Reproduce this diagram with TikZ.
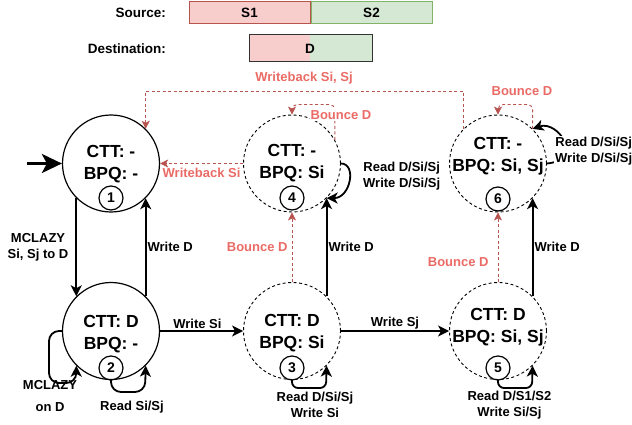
\documentclass[tikz,border=0pt]{standalone}
\usepackage{fontspec}
\setmainfont{Liberation Sans}
\usetikzlibrary{arrows.meta}

\definecolor{srcred}{HTML}{F8CECC}
\definecolor{srcredline}{HTML}{B85450}
\definecolor{srcgreen}{HTML}{D5E8D4}
\definecolor{srcgreenline}{HTML}{82B366}
\definecolor{bouncetxt}{HTML}{EA6B66}

\tikzset{
  state/.style={circle, draw, line width=1.2pt, minimum size=97pt, inner sep=0pt},
  dstate/.style={state, line width=0.9pt, dash pattern=on 3pt off 2.5pt},
  stxt/.style={align=center, inner sep=0pt, font=\fontsize{17.5}{22}\selectfont\bfseries},
  numc/.style={circle, draw, line width=1.2pt, minimum size=24pt, inner sep=0pt, font=\fontsize{14}{14}\selectfont\bfseries},
  lbl/.style={align=center, inner sep=1pt, font=\fontsize{13}{16}\selectfont\bfseries},
  redlbl/.style={lbl, text=bouncetxt},
  legbox/.style={draw, line width=1pt, minimum width=121pt, minimum height=22.5pt, inner sep=0pt, font=\fontsize{13.5}{14}\selectfont\bfseries},
  arr/.style={line width=1.8pt, -{Stealth[length=11pt,width=11pt,inset=3pt]}},
  redarr/.style={draw=srcredline, line width=0.9pt, dash pattern=on 3pt off 2.5pt, -{Stealth[length=8pt,width=8pt,inset=2pt]}},
}

\begin{document}
\begin{tikzpicture}[x=1pt,y=-1pt]
\useasboundingbox (0,0) rectangle (632,425);

%% legend
\node[lbl, anchor=east, font=\fontsize{13.5}{14}\selectfont\bfseries] (srclbl) at (167,13) {Source:};
\node[lbl, anchor=east, font=\fontsize{13.5}{14}\selectfont\bfseries] (dstlbl) at (167,49) {Destination:};
\node[legbox, fill=srcred, draw=srcredline] (srcS1) at (249.5,12.75) {S1};
\node[legbox, fill=srcgreen, draw=srcgreenline, anchor=west] (srcS2) at (srcS1.east) {S2};
\fill[srcred] (249,35) rectangle (310,62);
\fill[srcgreen] (310,35) rectangle (372,62);
\draw[black!80, line width=1pt] (249,35) rectangle (372,62);
\node[lbl, font=\fontsize{13.5}{14}\selectfont\bfseries] (dstD) at (310,48.5) {D};

%% states
\node[state] (st1) at (111,163.5) {};
\node[state] (st2) at (111,331) {};
\node[dstate] (st3) at (292,331) {};
\node[dstate] (st4) at (292,163.5) {};
\node[dstate] (st5) at (498,331) {};
\node[dstate] (st6) at (498,163.5) {};

\node[stxt] (t1) at (111,164) {CTT: -\\BPQ: -};
\node[stxt] (t2) at (111,334) {CTT: D\\BPQ: -};
\node[stxt] (t3) at (292,333) {CTT: D\\BPQ: Si};
\node[stxt] (t4) at (292,163) {CTT: -\\BPQ: Si};
\node[stxt] (t5) at (498,327) {CTT: D\\BPQ: Si, Sj};
\node[stxt] (t6) at (498,156) {CTT: -\\BPQ: Si, Sj};

\node[numc] (n1) at (111,198) {1};
\node[numc] (n2) at (111,368) {2};
\node[numc] (n3) at (292,368) {3};
\node[numc] (n4) at (292,198) {4};
\node[numc] (n5) at (498,368) {5};
\node[numc] (n6) at (498,199) {6};

%% entry
\coordinate (entry) at (27,163.5);
\draw[line width=3pt, -{Stealth[length=20pt,width=19pt,inset=5pt]}] (entry) -- (st1);

%% black edges
\draw[arr] (st1.225) -- (st2.135) node[lbl, midway, left=6pt] (lmc) {MCLAZY\\Si, Sj to D};
\draw[arr] (st2.45) -- (st1.-45) node[lbl, midway, right] (lwd1) {Write D};
\draw[arr] (st2) -- (st3) node[lbl, pos=0.45, above] (lwsi) {Write Si};
\draw[arr] (st3) -- (st5) node[lbl, midway, above] (lwsj) {Write Sj};
\draw[arr] (st3.45) -- (st4.-45) node[lbl, midway, right] (lwd2) {Write D};
\draw[arr] (st5.45) -- (st6.-45) node[lbl, midway, right] (lwd3) {Write D};

%% self loops
\draw[arr, rounded corners=10pt] (st2.west) -| (49,383) -| (st2.225);
\node[lbl, font=\fontsize{13}{22}\selectfont\bfseries] (lmc2) at (50,396) {MCLAZY\\on D};
\draw[arr, rounded corners=10pt] (st2.south) |- (145,392) -- (st2.-45);
\node[lbl] (lrd2) at (132,407) {Read Si/Sj};

\draw[arr, rounded corners=6pt] (st3.south) |- (326,388) -- (st3.-45);
\node[lbl, fill=white] (lrd3) at (315,405) {Read D/Si/Sj\\Write Si};
\draw[arr, rounded corners=6pt] (st5.south) |- (532,388) -- (st5.-45);
\node[lbl, fill=white] (lrd5) at (509.5,405) {Read D/S1/S2\\Write Si/Sj};

\draw[arr] (st4.east) .. controls +(16,0) and +(24,0) .. (st4.-45);
\node[lbl, anchor=west] (lrd4) at (362,176) {Read D/Si/Sj\\Write D/Si/Sj};
\draw[arr] (st6.east) .. controls (585,160) and (558,120) .. (st6.45);
\node[lbl, anchor=west, fill=white] (lrd6) at (554,151.5) {Read D/Si/Sj\\Write D/Si/Sj};

%% bounce and writeback
\draw[redarr] (st3) -- (st4) node[redlbl, midway, left=3pt] (lb3) {Bounce D};
\draw[redarr] (st5) -- (st6) node[redlbl, pos=0.29, left=8pt] (lb5) {Bounce D};
\draw[redarr, rounded corners=5pt] (st4.29) |- ([yshift=10pt]st4.north) -- (st4.north);
\node[redlbl, fill=white] (lb4) at (341,115) {Bounce D};
\draw[redarr, rounded corners=5pt] (st6.45) |- ([yshift=10pt]st6.north) -- (st6.north);
\node[redlbl] (lb6) at (522,91) {Bounce D};

\draw[redarr] (st4) -- (st1) node[redlbl, midway, below=3pt] (lwb1) {Writeback Si};
\coordinate (wbtop) at (300,91);
\draw[redarr] (st6.135) |- (st1.45 |- wbtop) -- (st1.45);
\node[redlbl] (lwb2) at (304,78) {Writeback Si, Sj};

\end{tikzpicture}
\end{document}
